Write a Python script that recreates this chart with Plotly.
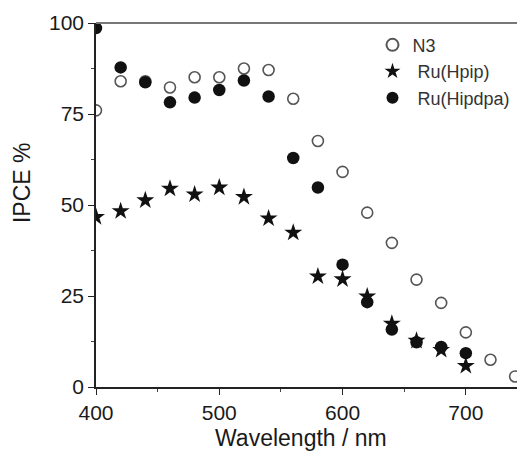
import plotly.graph_objects as go

wavelength = [400, 420, 440, 460, 480, 500, 520, 540, 560, 580, 600, 620, 640, 660, 680, 700, 720, 740]
n3 = [76, 84, 84, 82.3, 85.1, 85.1, 87.5, 87.1, 79.2, 67.6, 59.1, 47.9, 39.6, 29.5, 23.1, 15.0, 7.5, 2.9]

wl_ru = [400, 420, 440, 460, 480, 500, 520, 540, 560, 580, 600, 620, 640, 660, 680, 700]
ru_hpip = [46.7, 48.3, 51.3, 54.5, 52.9, 54.8, 52.2, 46.3, 42.4, 30.4, 29.6, 24.9, 17.4, 12.7, 10.2, 5.8]
ru_hipdpa = [98.6, 87.8, 83.7, 78.2, 79.5, 81.6, 84.2, 79.8, 62.9, 54.8, 33.6, 23.3, 15.8, 12.3, 11.0, 9.3]

x_ticks = [400, 500, 600, 700]
y_ticks = [0, 25, 50, 75, 100]

font = "Liberation Sans, Arial, sans-serif"

fig = go.Figure()
fig.add_trace(go.Scatter(
    x=wavelength, y=n3, mode="markers", name="N3", legendrank=1,
    marker=dict(symbol="circle-open", size=11, color="#555555", line=dict(width=1.6, color="#555555")),
))
fig.add_trace(go.Scatter(
    x=wl_ru, y=ru_hipdpa, mode="markers", name="\u00a0Ru(Hipdpa)", legendrank=3,
    marker=dict(symbol="circle", size=12.5, color="#111111", line=dict(width=0)),
))
fig.add_trace(go.Scatter(
    x=wl_ru, y=ru_hpip, mode="markers", name="\u00a0Ru(Hpip)", legendrank=2,
    marker=dict(symbol="star", size=13.5, color="#111111", line=dict(width=0)),
))

fig.update_layout(
    width=525, height=452,
    margin=dict(l=88, r=8, t=15, b=73),
    paper_bgcolor="white", plot_bgcolor="white",
    font=dict(family=font, size=21, color="#1a1a1a"),
    showlegend=True,
    legend=dict(
        x=0.6445, y=0.99, xanchor="left", yanchor="top",
        bgcolor="rgba(0,0,0,0)", borderwidth=0,
        font=dict(size=18, color="#333333"),
        itemsizing="constant", tracegroupgap=0,
    ),
    xaxis=dict(
        range=[400, 748], tickvals=x_ticks, ticks="outside", ticklen=6, tickwidth=1.2,
        tickcolor="#222", showline=True, linecolor="#222", linewidth=1.5,
        showgrid=False, zeroline=False, automargin=False,
        minor=dict(dtick=50, tick0=400, ticks="outside", ticklen=3, tickcolor="#444", showgrid=False),
        tickfont=dict(size=21),
    ),
    yaxis=dict(
        range=[0, 100], tickvals=y_ticks, ticks="outside", ticklen=6, tickwidth=1.2,
        tickcolor="#222", showline=True, linecolor="#222", linewidth=1.5,
        showgrid=False, zeroline=False, automargin=False,
        minor=dict(dtick=12.5, tick0=0, ticks="outside", ticklen=3, tickcolor="#444", showgrid=False),
        tickfont=dict(size=21),
    ),
    shapes=[dict(type="line", xref="paper", yref="paper", x0=0, x1=1, y0=1, y1=1,
                 line=dict(color="#777777", width=2))],
    annotations=[
        dict(text="IPCE %", xref="paper", yref="paper", x=-0.1725, y=0.563,
             xanchor="center", yanchor="middle", textangle=-90, showarrow=False,
             font=dict(size=23, color="#1a1a1a")),
        dict(text="Wavelength / nm", xref="paper", yref="paper", x=0.479, y=-0.141,
             xanchor="center", yanchor="middle", showarrow=False,
             font=dict(size=23, color="#1a1a1a")),
    ],
)

fig.write_html("out.html")
